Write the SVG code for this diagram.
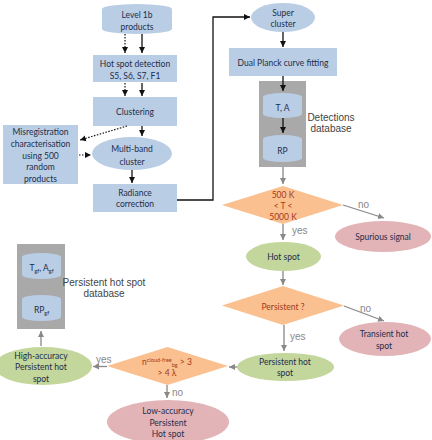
<svg xmlns="http://www.w3.org/2000/svg" width="432" height="440" viewBox="0 0 432 440">
<defs>
<marker id="ab" markerWidth="8" markerHeight="8" refX="6" refY="4" orient="auto" markerUnits="userSpaceOnUse"><path d="M0,1 L6,4 L0,7 Z" fill="#111"/></marker>
<marker id="ag" markerWidth="8" markerHeight="8" refX="6" refY="4" orient="auto" markerUnits="userSpaceOnUse"><path d="M0,1 L6,4 L0,7 Z" fill="#888"/></marker>
<style>
.bl{fill:#b9cde5}
.gr{fill:#c3d69b}
.pk{fill:#e3b4b7}
.or{fill:#fac090}
.db{fill:#a9a9a9}
.t{font-family:Lato,"Open Sans",sans-serif;font-size:8.5px;fill:#1f2d4a;text-anchor:middle}
.tr{font-family:Lato,"Open Sans",sans-serif;font-size:8.5px;fill:#a33a1a;text-anchor:middle}
.tl{font-family:"Liberation Sans",Arial,sans-serif;font-size:10px;fill:#444;text-anchor:middle}
.lb{font-family:"Liberation Sans",Arial,sans-serif;font-size:10px;fill:#888}
.s{stroke:#111;stroke-width:1.3;fill:none}
.d{stroke:#111;stroke-width:1.2;fill:none;stroke-dasharray:1.5,1.5}
.g{stroke:#888;stroke-width:1.3;fill:none}
</style>
</defs>
<rect width="432" height="440" fill="#fff"/>

<g id="level1b"><path class="bl" d="M102,9 A35,5 0 0 1 172,9 V29 A35,5 0 0 1 102,29 Z"/><text class="t" x="137" y="18">Level 1b</text><text class="t" x="137" y="30">products</text></g>
<g id="hotspotdetection"><rect class="bl" x="93" y="55" width="84" height="27"/><text class="t" x="135" y="67">Hot spot detection</text><text class="t" x="135" y="79">S5, S6, S7, F1</text></g>
<g id="clustering"><rect class="bl" x="93" y="97" width="84" height="29"/><text class="t" x="135" y="115">Clustering</text></g>
<g id="misreg"><rect class="bl" x="3" y="125" width="75" height="59"/><text class="t" x="40.5" y="135">Misregistration</text><text class="t" x="40.5" y="147">characterisation</text><text class="t" x="40.5" y="159">using 500</text><text class="t" x="40.5" y="170">random</text><text class="t" x="40.5" y="182">products</text></g>
<g id="multiband"><ellipse class="bl" cx="132" cy="153.5" rx="40" ry="16.5"/><text class="t" x="132" y="152">Multi-band</text><text class="t" x="132" y="165">cluster</text></g>
<g id="radiance"><rect class="bl" x="93" y="184" width="84" height="28"/><text class="t" x="135" y="196">Radiance</text><text class="t" x="135" y="207">correction</text></g>
<g id="supercluster"><ellipse class="bl" cx="283" cy="17.5" rx="32" ry="14.5"/><text class="t" x="283" y="16">Super</text><text class="t" x="283" y="27">cluster</text></g>
<g id="dualplanck"><rect class="bl" x="229" y="48" width="108" height="28"/><text class="t" x="283" y="66">Dual Planck curve fitting</text></g>
<g id="detectionsdb"><rect class="db" x="259" y="81" width="47" height="86"/>
<path class="bl" d="M263,97 A19.5,4 0 0 1 302,97 V114 A19.5,4 0 0 1 263,114 Z"/><text class="t" x="282.5" y="111">T, A</text>
<path class="bl" d="M263,139 A19.5,4 0 0 1 302,139 V158 A19.5,4 0 0 1 263,158 Z"/><text class="t" x="282.5" y="154">RP</text>
<text class="tl" x="331" y="121">Detections</text><text class="tl" x="331" y="132">database</text></g>
<g id="tempdecision"><polygon class="or" points="283,186 343,205 283,224 222,205"/><text class="tr" x="283" y="198">500 K</text><text class="tr" x="283" y="209">&lt; T &lt;</text><text class="tr" x="283" y="220">5000 K</text></g>
<g id="spurious"><ellipse class="pk" cx="383" cy="236.5" rx="48" ry="15.5"/><text class="t" x="383" y="240">Spurious signal</text></g>
<g id="hotspot"><ellipse class="gr" cx="283.5" cy="256.5" rx="37.5" ry="14.5"/><text class="t" x="283.5" y="260">Hot spot</text></g>
<g id="persistentdecision"><polygon class="or" points="283,286 344,305.5 283,325 222,305.5"/><text class="tr" x="283" y="310">Persistent ?</text></g>
<g id="transient"><ellipse class="pk" cx="385" cy="339" rx="46" ry="17"/><text class="t" x="384" y="337">Transient hot</text><text class="t" x="384" y="349">spot</text></g>
<g id="persistenthotspot"><ellipse class="gr" cx="285.5" cy="367" rx="48.5" ry="14"/><text class="t" x="285" y="365">Persistent hot</text><text class="t" x="285" y="376">spot</text></g>
<g id="cloudfreedecision"><polygon class="or" points="167.5,347 228,366 167.5,385 107,366"/><text class="tr" x="167" y="365">n<tspan font-size="5.5" dy="-3.5">cloud-free</tspan><tspan font-size="5.5" dy="5.5">bg</tspan><tspan dy="-2"> &gt; 3</tspan></text><text class="tr" x="167" y="376">&gt; 4 λ</text></g>
<g id="lowaccuracy"><ellipse class="pk" cx="168" cy="422" rx="61" ry="22"/><text class="t" x="168" y="414">Low-accuracy</text><text class="t" x="168" y="426">Persistent</text><text class="t" x="168" y="437">Hot spot</text></g>
<g id="highaccuracy"><ellipse class="gr" cx="43" cy="366" rx="49" ry="19"/><text class="t" x="41" y="359">High-accuracy</text><text class="t" x="41" y="370">Persistent hot</text><text class="t" x="41" y="382">spot</text></g>
<g id="persistentdb"><rect class="db" x="17" y="244" width="48" height="85"/>
<path class="bl" d="M22,257 A19.5,4 0 0 1 61,257 V275 A19.5,4 0 0 1 22,275 Z"/><text class="t" x="41.5" y="271">T<tspan font-size="5.5" dy="2">gf</tspan><tspan dy="-2">, A</tspan><tspan font-size="5.5" dy="2">gf</tspan></text>
<path class="bl" d="M22,299 A19.5,4 0 0 1 61,299 V317 A19.5,4 0 0 1 22,317 Z"/><text class="t" x="41.5" y="313">RP<tspan font-size="5.5" dy="2">gf</tspan></text>
<text class="tl" x="104" y="286">Persistent hot spot</text><text class="tl" x="104" y="297">database</text></g>

<g id="connectors">
<path class="d" d="M125,34 V53" marker-end="url(#ab)"/>
<path class="s" d="M142,34 V53" marker-end="url(#ab)"/>
<path class="d" d="M125,83 V96" marker-end="url(#ab)"/>
<path class="s" d="M142,83 V96" marker-end="url(#ab)"/>
<path class="s" d="M142,126 V136" marker-end="url(#ab)"/>
<path class="d" d="M127,126 L80,140" marker-end="url(#ab)"/>
<path class="d" d="M79,155 L91,155" marker-end="url(#ab)"/>
<path class="s" d="M132,170 V183" marker-end="url(#ab)"/>
<path class="s" d="M177,200 H213 V17 H250" marker-end="url(#ab)"/>
<path class="s" d="M283,32 V47" marker-end="url(#ab)"/>
<path class="s" d="M283,76 V91" marker-end="url(#ab)"/>
<path class="s" d="M283,118 V133" marker-end="url(#ab)"/>
<path class="g" d="M283,167 V184" marker-end="url(#ag)"/>
<path class="g" d="M343,205 L384,218" marker-end="url(#ag)"/>
<path class="g" d="M283,224 V240" marker-end="url(#ag)"/>
<path class="g" d="M283,271 V285" marker-end="url(#ag)"/>
<path class="g" d="M344,306 L384,321" marker-end="url(#ag)"/>
<path class="g" d="M284,325 V351" marker-end="url(#ag)"/>
<path class="g" d="M237,367 H229" marker-end="url(#ag)"/>
<path class="g" d="M167,385 V398" marker-end="url(#ag)"/>
<path class="g" d="M107,366.5 H93" marker-end="url(#ag)"/>
<path class="g" d="M41,346 V331" marker-end="url(#ag)"/>
<text class="lb" x="358" y="208">no</text>
<text class="lb" x="292" y="234">yes</text>
<text class="lb" x="360" y="312">no</text>
<text class="lb" x="290" y="340">yes</text>
<text class="lb" x="172" y="396">no</text>
<text class="lb" x="96" y="363">yes</text>
</g>
</svg>
